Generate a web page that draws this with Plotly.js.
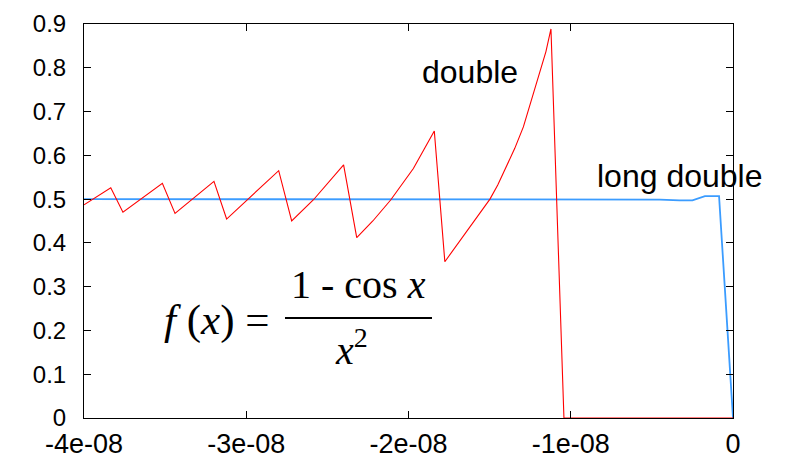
<!DOCTYPE html>
<html>
<head>
<meta charset="utf-8">
<script src="https://cdn.plot.ly/plotly-3.0.1.min.js"></script>
<style>html,body{margin:0;padding:0;background:#fff;}#chart{width:786px;height:462px;}</style>
</head>
<body>
<div id="chart"></div>
<script>
// "double" series
const doubleX = [-4.0e-8, -3.835e-8, -3.76e-8, -3.517e-8, -3.439e-8, -3.199e-8, -3.121e-8, -2.987e-8, -2.80e-8,
  -2.72e-8, -2.587e-8, -2.40e-8, -2.319e-8, -2.22e-8, -2.11e-8, -1.97e-8, -1.841e-8,
  -1.776e-8, -1.683e-8, -1.60e-8, -1.55e-8, -1.498e-8, -1.45e-8, -1.395e-8, -1.345e-8, -1.292e-8,
  -1.245e-8, -1.19e-8, -1.153e-8, -1.122e-8,
  -1.042e-8, -0.5e-8, 0];
const doubleY = [0.487, 0.526, 0.470, 0.536, 0.4675, 0.5406, 0.4545, 0.50, 0.565,
  0.450, 0.498, 0.578, 0.412, 0.45, 0.498, 0.57, 0.6555,
  0.357, 0.404, 0.447, 0.4735, 0.500, 0.532, 0.574, 0.616, 0.665,
  0.722, 0.787, 0.837, 0.8886,
  0.0, 0.0, 0.0];
// "long double" series
const longX = [-4.0e-8, -0.6e-8, -0.45e-8, -0.33e-8, -0.25e-8, -0.173e-8, -0.086e-8, 0];
const longY = [0.5, 0.5, 0.499, 0.497, 0.497, 0.507, 0.507, 0.0];
// tick labels
const xTickVals = [-4e-8, -3e-8, -2e-8, -1e-8, 0];
const xTickText = ["-4e-08", "-3e-08", "-2e-08", "-1e-08", "0"];
const yTickVals = [0, 0.1, 0.2, 0.3, 0.4, 0.5, 0.6, 0.7, 0.8, 0.9];
const yTickText = ["0", "0.1", "0.2", "0.3", "0.4", "0.5", "0.6", "0.7", "0.8", "0.9"];

const traces = [
  {x: longX, y: longY, type: 'scatter', mode: 'lines', name: 'long double',
   line: {color: '#3b9cff', width: 1.8}},
  {x: doubleX, y: doubleY, type: 'scatter', mode: 'lines', name: 'double',
   line: {color: '#ff0000', width: 1.1}}
];

const sans = 'Liberation Sans, Arial, Helvetica, sans-serif';
const serif = 'Liberation Serif, Times New Roman, serif';

const layout = {
  width: 786, height: 462,
  margin: {l: 84, r: 53, t: 24, b: 44},
  paper_bgcolor: '#fff', plot_bgcolor: '#fff',
  showlegend: false,
  xaxis: {
    range: [-4e-8, 0], tickvals: xTickVals, ticktext: xTickText,
    showgrid: false, zeroline: false, showline: true, linecolor: '#000', linewidth: 1,
    mirror: 'ticks', ticks: 'inside', ticklen: 7, tickcolor: '#000',
    tickfont: {family: sans, size: 27, color: '#000'}, ticklabelstandoff: 2
  },
  yaxis: {
    range: [0, 0.9], tickvals: yTickVals, ticktext: yTickText,
    showgrid: false, zeroline: false, showline: true, linecolor: '#000', linewidth: 1,
    mirror: 'ticks', ticks: 'inside', ticklen: 7, tickcolor: '#000',
    tickfont: {family: sans, size: 24, color: '#000'}, ticklabelstandoff: 12
  },
  annotations: [
    {text: 'double', xref: 'paper', yref: 'paper', x: 0.5948, y: 0.878, xanchor: 'center', yanchor: 'middle',
     showarrow: false, font: {family: sans, size: 32, color: '#000'}},
    {text: 'long double', xref: 'paper', yref: 'paper', x: 0.9168, y: 0.614, xanchor: 'center', yanchor: 'middle',
     showarrow: false, font: {family: sans, size: 32, color: '#000'}},
    {text: '<i>f</i> (<i>x</i>) =', xref: 'paper', yref: 'paper', x: 0.2034, y: 0.2487, xanchor: 'center', yanchor: 'middle',
     showarrow: false, font: {family: serif, size: 43, color: '#000'}},
    {text: '1 - cos <i>x</i>', xref: 'paper', yref: 'paper', x: 0.4222, y: 0.340, xanchor: 'center', yanchor: 'middle',
     showarrow: false, font: {family: serif, size: 40, color: '#000'}},
    {text: '<i>x</i><sup>2</sup>', xref: 'paper', yref: 'paper', x: 0.4129, y: 0.1777, xanchor: 'center', yanchor: 'middle',
     showarrow: false, font: {family: serif, size: 40, color: '#000'}}
  ],
  shapes: [
    {type: 'line', xref: 'paper', yref: 'paper', x0: 0.3097, x1: 0.5362, y0: 0.2538, y1: 0.2538,
     line: {color: '#000', width: 2}}
  ]
};

Plotly.newPlot('chart', traces, layout, {staticPlot: true, displayModeBar: false});
</script>
</body>
</html>
